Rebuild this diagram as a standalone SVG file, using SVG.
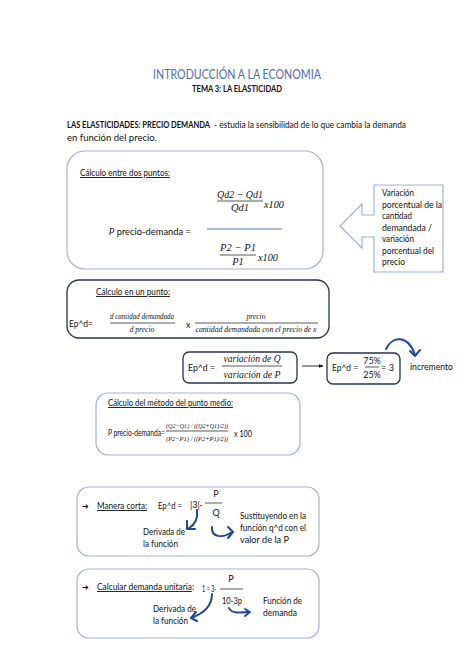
<svg xmlns="http://www.w3.org/2000/svg" width="474" height="670" viewBox="0 0 474 670">
<style>
.t{font-family:Lato,"Liberation Sans",sans-serif;font-size:9px;fill:#111}
.b{font-weight:bold}
.u{text-decoration:underline}
.m{font-family:"Liberation Serif","DejaVu Serif",serif;font-style:italic;fill:#111}
.light{fill:#fff;stroke:#a3b3cf;stroke-width:1.2}
.dark{fill:#fff;stroke:#27324d;stroke-width:1.3}
.fl{stroke:#111;stroke-width:0.7}
.blue{fill:none;stroke:#1f4b8e;stroke-width:2;stroke-linecap:round;stroke-linejoin:round}
</style>
<defs>
<marker id="ah" viewBox="0 0 10 10" refX="9" refY="5" markerWidth="5" markerHeight="5" orient="auto"><path d="M0 1 L10 5 L0 9 Z" fill="#111"/></marker>
</defs>
<rect width="474" height="670" fill="#fff"/>
<g id="header">
<text x="237" y="79" text-anchor="middle" style="font-family:Lato,'Liberation Sans',sans-serif;font-weight:400;font-size:13px;fill:#4f6ea6" textLength="168" lengthAdjust="spacingAndGlyphs">INTRODUCCIÓN A LA ECONOMIA</text>
<text x="237" y="92" text-anchor="middle" class="t b" textLength="90" lengthAdjust="spacingAndGlyphs">TEMA 3: LA ELASTICIDAD</text>
<text x="67" y="128" class="t b" font-size="8" textLength="143" lengthAdjust="spacingAndGlyphs">LAS ELASTICIDADES: PRECIO DEMANDA</text>
<text x="214" y="128" class="t" font-size="8.6" textLength="192" lengthAdjust="spacingAndGlyphs">- estudia la sensibilidad de lo que cambia la demanda</text>
<text x="67" y="141" class="t" textLength="90" lengthAdjust="spacingAndGlyphs">en función del precio.</text>
</g>
<g id="box-dos-puntos">
<rect x="67" y="151" width="256" height="118" rx="18" class="light"/>
<text x="80" y="176" class="t u" textLength="90" lengthAdjust="spacingAndGlyphs">Cálculo entre dos puntos:</text>
<text x="240" y="198" text-anchor="middle" class="m" font-size="10.5" textLength="46" lengthAdjust="spacingAndGlyphs">Qd2 − Qd1</text>
<line x1="217" y1="201" x2="263" y2="201" class="fl"/>
<text x="240" y="211" text-anchor="middle" class="m" font-size="10.5">Qd1</text>
<text x="264" y="208" class="m" font-size="10.5" textLength="20" lengthAdjust="spacingAndGlyphs">x100</text>
<text x="109" y="235" class="t" textLength="82" lengthAdjust="spacingAndGlyphs"><tspan font-style="italic">P</tspan> precio-demanda =</text>
<line x1="207" y1="229" x2="282" y2="229" stroke="#8fa3c7" stroke-width="1.3"/>
<text x="238" y="251" text-anchor="middle" class="m" font-size="10.5" textLength="36" lengthAdjust="spacingAndGlyphs">P2 − P1</text>
<line x1="220" y1="255" x2="256" y2="255" class="fl"/>
<text x="238" y="265" text-anchor="middle" class="m" font-size="10.5">P1</text>
<text x="258" y="261" class="m" font-size="10.5" textLength="20" lengthAdjust="spacingAndGlyphs">x100</text>
</g>
<g id="callout-definicion">
<path d="M374 185 L443 185 L443 272 L374 272 L374 237 L362 237 L362 248 L340 226 L362 204 L362 215 L374 215 Z" class="light"/>
<text class="t">
<tspan x="382" y="196" textLength="32" lengthAdjust="spacingAndGlyphs">Variación</tspan>
<tspan x="382" y="207.5" textLength="60" lengthAdjust="spacingAndGlyphs">porcentual de la</tspan>
<tspan x="382" y="219" textLength="30" lengthAdjust="spacingAndGlyphs">cantidad</tspan>
<tspan x="382" y="230.5" textLength="50" lengthAdjust="spacingAndGlyphs">demandada /</tspan>
<tspan x="382" y="242" textLength="32" lengthAdjust="spacingAndGlyphs">variación</tspan>
<tspan x="382" y="253.5" textLength="52" lengthAdjust="spacingAndGlyphs">porcentual del</tspan>
<tspan x="382" y="265" textLength="23" lengthAdjust="spacingAndGlyphs">precio</tspan>
</text>
</g>
<g id="box-un-punto">
<rect x="67" y="280" width="262" height="58" rx="12" class="dark"/>
<text x="96" y="295" class="t u" textLength="74" lengthAdjust="spacingAndGlyphs">Cálculo en un punto:</text>
<text x="69" y="327" class="t" textLength="24" lengthAdjust="spacingAndGlyphs">Ep^d=</text>
<text x="142" y="319" text-anchor="middle" class="m" font-size="7.5" textLength="64" lengthAdjust="spacingAndGlyphs">d cantidad demandada</text>
<line x1="110" y1="323" x2="175" y2="323" class="fl"/>
<text x="142" y="332" text-anchor="middle" class="m" font-size="7.5">d precio</text>
<text x="186" y="328" class="t" font-size="9.5">x</text>
<text x="256" y="319" text-anchor="middle" class="m" font-size="7.5">precio</text>
<line x1="195" y1="323" x2="318" y2="323" class="fl"/>
<text x="256" y="332" text-anchor="middle" class="m" font-size="7.5" textLength="121" lengthAdjust="spacingAndGlyphs">cantidad demandada con el precio de x</text>
</g>
<g id="box-variacion">
<rect x="183" y="352" width="114" height="31" rx="6" class="dark"/>
<text x="188" y="371" class="t" textLength="27" lengthAdjust="spacingAndGlyphs">Ep^d =</text>
<text x="252" y="362" text-anchor="middle" class="m" font-size="10" textLength="57" lengthAdjust="spacingAndGlyphs">variación de Q</text>
<line x1="222" y1="366" x2="282" y2="366" class="fl"/>
<text x="252" y="378" text-anchor="middle" class="m" font-size="10" textLength="57" lengthAdjust="spacingAndGlyphs">variación de P</text>
</g>
<g id="box-resultado">
<rect x="327" y="353" width="73" height="31" rx="6" class="dark"/>
<text x="332" y="371" class="t" textLength="26" lengthAdjust="spacingAndGlyphs">Ep^d =</text>
<text x="372" y="364" text-anchor="middle" class="t" font-size="8.5">75%</text>
<line x1="365" y1="367" x2="379" y2="367" class="fl"/>
<text x="372" y="378" text-anchor="middle" class="t" font-size="8.5">25%</text>
<text x="381" y="371" class="t" textLength="13" lengthAdjust="spacingAndGlyphs">= 3</text>
</g>
<g id="label-incremento">
<text x="410" y="370" class="t" textLength="43" lengthAdjust="spacingAndGlyphs">incremento</text>
</g>
<g id="box-punto-medio">
<rect x="96" y="393" width="204" height="62" rx="12" class="light"/>
<text x="108" y="406" class="t u" textLength="125" lengthAdjust="spacingAndGlyphs">Cálculo del método del punto medio:</text>
<text x="108" y="436" class="t" font-size="8" textLength="57" lengthAdjust="spacingAndGlyphs"><tspan font-style="italic">P</tspan> precio-demanda=</text>
<text x="197" y="428" text-anchor="middle" class="m" font-size="7" textLength="62" lengthAdjust="spacingAndGlyphs">(Q2−Q1) / ((Q2+Q1)/2))</text>
<line x1="166" y1="431" x2="228" y2="431" class="fl"/>
<text x="197" y="441" text-anchor="middle" class="m" font-size="7" textLength="62" lengthAdjust="spacingAndGlyphs">(P2−P1) / ((P2+P1)/2))</text>
<text x="234" y="437" class="t" textLength="18" lengthAdjust="spacingAndGlyphs">x 100</text>
</g>
<g id="box-manera-corta">
<rect x="77" y="487" width="242" height="69" rx="12" class="light"/>
<text x="82" y="509" style="font-family:'DejaVu Sans',sans-serif;font-size:8px;fill:#111">➔</text>
<text x="97" y="509" class="t u" textLength="50" lengthAdjust="spacingAndGlyphs">Manera corta:</text>
<text x="158" y="509" class="t" font-size="8.5" textLength="24" lengthAdjust="spacingAndGlyphs">Ep^d =</text>
<text x="190" y="508" class="t" font-size="8.5">|3|·</text>
<text x="216" y="497" text-anchor="middle" class="t" font-size="8.5">P</text>
<line x1="205" y1="503" x2="222" y2="503" class="fl"/>
<text x="216" y="516" text-anchor="middle" class="t" font-size="8.5">Q</text>
<text class="t">
<tspan x="240" y="519" textLength="66" lengthAdjust="spacingAndGlyphs">Sustituyendo en la</tspan>
<tspan x="240" y="531" textLength="66" lengthAdjust="spacingAndGlyphs">función q^d con el</tspan>
<tspan x="240" y="543" textLength="49" lengthAdjust="spacingAndGlyphs">valor de la P</tspan>
</text>
<text class="t">
<tspan x="143" y="535" textLength="42" lengthAdjust="spacingAndGlyphs">Derivada de</tspan>
<tspan x="143" y="547" textLength="35" lengthAdjust="spacingAndGlyphs">la función</tspan>
</text>
</g>
<g id="box-demanda-unitaria">
<rect x="77" y="569" width="242" height="69" rx="12" class="light"/>
<text x="82" y="590" style="font-family:'DejaVu Sans',sans-serif;font-size:8px;fill:#111">➔</text>
<text x="97" y="590" class="t" font-size="7.8" textLength="97" lengthAdjust="spacingAndGlyphs"><tspan class="u">Calcular demanda unitaria</tspan>:</text>
<text x="202" y="592" class="t" font-size="7.5" textLength="14" lengthAdjust="spacingAndGlyphs">1 = 3·</text>
<text x="231" y="582" text-anchor="middle" class="t" font-size="8.5">P</text>
<line x1="220" y1="589" x2="243" y2="589" class="fl"/>
<text x="222" y="604" class="t" font-size="8.5" textLength="20" lengthAdjust="spacingAndGlyphs">10-3p</text>
<text class="t">
<tspan x="263" y="604" textLength="39" lengthAdjust="spacingAndGlyphs">Función de</tspan>
<tspan x="263" y="616" textLength="34" lengthAdjust="spacingAndGlyphs">demanda</tspan>
</text>
<text class="t">
<tspan x="153" y="612" textLength="43" lengthAdjust="spacingAndGlyphs">Derivada de</tspan>
<tspan x="153" y="624" textLength="35" lengthAdjust="spacingAndGlyphs">la función</tspan>
</text>
</g>
<g id="connectors">
<line x1="302" y1="366" x2="323" y2="366" stroke="#111" stroke-width="0.9" marker-end="url(#ah)"/>
<path d="M386 349 C392 336 408 334 415 355" class="blue"/>
<path d="M410 351 L415 356 L420 350" class="blue"/>
<path d="M197 510 C198 518 196 524 189 528" class="blue"/>
<path d="M187 521 L187 529 L195 529" class="blue"/>
<path d="M212 527 C211 537 222 539 232 532" class="blue"/>
<path d="M228 527 L233 532 L228 538" class="blue"/>
<path d="M212 594 C212 605 205 613 191 618" class="blue"/>
<path d="M196 612 L191 618 L197 621" class="blue"/>
<path d="M229 608 C231 613 238 613 248 612" class="blue"/>
<path d="M245 609 L250 612 L245 616" class="blue"/>
</g>
</svg>
